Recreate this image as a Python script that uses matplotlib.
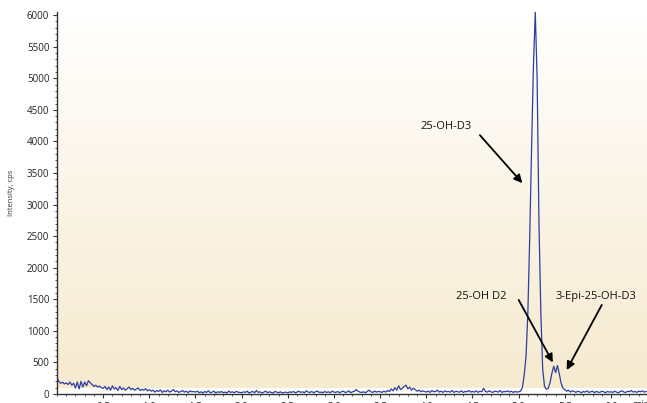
import numpy as np
import matplotlib
matplotlib.use("Agg")
from matplotlib import pyplot as plt
from matplotlib.colors import LinearSegmentedColormap

plt.rcParams['font.family'] = ['Open Sans', 'DejaVu Sans']

# chromatogram, one reading every scan_step minutes starting at 0
scan_step = 0.02
intensity = [
    # 0.00 - 0.48
    260, 200, 170, 185, 160, 175, 150, 190, 140, 170, 95, 190, 80, 200, 110,
    190, 130, 210, 180, 150, 120, 140, 110, 125, 100,
    # 0.50 - 0.98
    90, 120, 70, 110, 60, 130, 80, 100, 55, 120, 70, 95, 60, 85, 110,
    70, 90, 60, 80, 95, 55, 75, 60, 85, 50,
    # 1.00 - 1.48
    70, 45, 60, 30, 55, 40, 65, 25, 50, 35, 60, 30, 45, 70, 35,
    50, 25, 40, 55, 30, 45, 20, 50, 35, 40,
    # 1.50 - 1.98
    30, 45, 20, 35, 15, 40, 25, 50, 20, 30, 45, 15, 35, 25, 40,
    20, 30, 15, 45, 25, 35, 20, 40, 30, 25,
    # 2.00 - 2.48
    20, 35, 25, 45, 15, 30, 40, 20, 55, 25, 35, 15, 30, 45, 20,
    35, 25, 15, 40, 30, 20, 35, 15, 25, 30,
    # 2.50 - 2.98
    15, 35, 25, 40, 20, 30, 45, 25, 35, 20, 50, 30, 25, 40, 20,
    35, 45, 25, 30, 20, 40, 25, 35, 20, 45,
    # 3.00 - 3.48
    30, 25, 40, 20, 35, 45, 25, 30, 50, 20, 35, 40, 70, 45, 30,
    25, 35, 20, 40, 60, 35, 25, 45, 30, 40,
    # 3.50 - 3.98
    35, 25, 45, 30, 55, 40, 80, 50, 100, 60, 130, 70, 90, 120, 140,
    80, 110, 60, 90, 70, 45, 60, 35, 50, 40,
    # 4.00 - 4.48
    30, 45, 25, 55, 35, 40, 60, 30, 45, 25, 50, 35, 40, 30, 55,
    25, 45, 35, 30, 50, 25, 40, 35, 55, 30,
    # 4.50 - 4.98
    40, 30, 50, 25, 45, 35, 90, 40, 30, 50, 35, 25, 45, 40, 30,
    55, 25, 40, 35, 50, 30, 45, 25, 40, 30,
    # 5.00 - 5.48  (25-OH-D3, then 25-OH D2 / 3-epi pair)
    35, 45, 100, 300, 600, 1300, 2500, 3900, 5200, 6050, 5000, 2700, 1300,
    400, 120, 75, 90, 180, 330, 440, 340, 450, 320, 170, 90,
    # 5.50 - 5.98
    70, 45, 60, 30, 50, 40, 25, 45, 35, 20, 40, 30, 50, 25, 35,
    45, 20, 40, 30, 25, 45, 35, 20, 40, 30,
    # 6.00 - 6.38
    35, 25, 45, 30, 20, 40, 50, 30, 25, 45, 35, 55, 30, 40, 25,
    45, 35, 50, 30, 40,
]
time = np.round(np.arange(len(intensity)) * scan_step, 2)

x_ticks = [0.5, 1.0, 1.5, 2.0, 2.5, 3.0, 3.5, 4.0, 4.5, 5.0, 5.5, 6.0]
x_tick_labels = ['0.5', '1.0', '1.5', '2.0', '2.5', '3.0', '3.5', '4.0', '4.5', '5.0', '5.5', '6.0']
y_ticks = [0, 500, 1000, 1500, 2000, 2500, 3000, 3500, 4000, 4500, 5000, 5500, 6000]

# peak labels: name, text position, arrow tip
peak_names = ['25-OH-D3', '25-OH D2', '3-Epi-25-OH-D3']
label_xy = [(4.21, 4230), (4.60, 1550), (5.84, 1540)]
tail_xy = [(4.58, 4100), (5.00, 1490), (5.90, 1410)]
tip_xy = [(5.04, 3340), (5.37, 500), (5.52, 380)]

fig = plt.figure(figsize=(6.47, 4.03), dpi=100)
ax = fig.add_axes([57/647, 9/403, 590/647, 382/403])
ax.set_xlim(0, 6.39)
ax.set_ylim(0, 6050)

# light beige backdrop fading to white at the top
bg = LinearSegmentedColormap.from_list('bg', ['#f6eacf', '#ffffff'])
ax.imshow(np.linspace(0, 1, 256).reshape(-1, 1), cmap=bg, origin='lower',
          extent=[0, 6.39, 100, 6050], aspect='auto', zorder=0)

ax.plot(time, intensity, color='#2c3e9e', lw=0.9, zorder=2)

for name, lxy, txy, pxy in zip(peak_names, label_xy, tail_xy, tip_xy):
    ax.text(lxy[0], lxy[1], name, fontsize=8, ha='center', va='center', color='#111111')
    ax.annotate('', xy=pxy, xytext=txy,
                arrowprops=dict(arrowstyle='-|>', color='black', lw=1.3,
                                mutation_scale=12, shrinkA=0, shrinkB=0))

ax.set_xticks(x_ticks)
ax.set_xticklabels(x_tick_labels)
ax.set_xticks(np.arange(0, 6.39, 0.1), minor=True)
ax.set_yticks(y_ticks)
ax.set_yticks(np.arange(0, 6001, 100), minor=True)
ax.text(6.23, -95, 'min', fontsize=7, va='top', ha='left', color='#222222')

for side in ['top', 'right']:
    ax.spines[side].set_visible(False)
for side in ['left', 'bottom']:
    ax.spines[side].set_color('#333333')
    ax.spines[side].set_linewidth(1.0)
ax.tick_params(which='major', length=3, width=0.8, color='#333333',
               labelsize=7, labelcolor='#222222', pad=2.5)
ax.tick_params(which='minor', length=1.5, width=0.6, color='#333333')

ax.set_ylabel('Intensity, cps', fontsize=5.5, color='#333333')
ax.yaxis.set_label_coords(-0.071, 0.526)

fig.savefig('out.png', dpi=100)
